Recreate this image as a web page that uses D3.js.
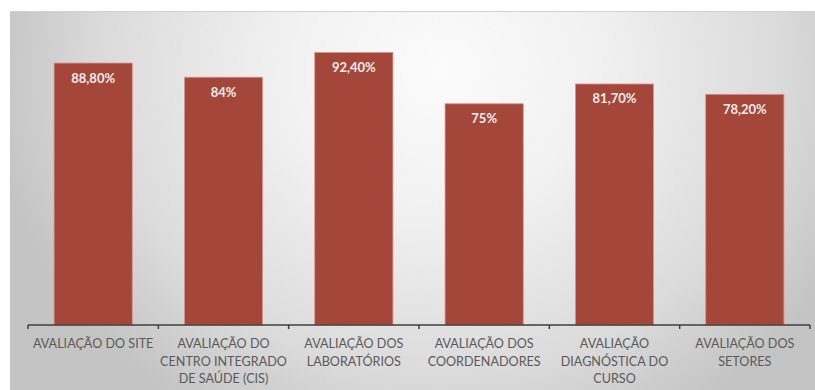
<!DOCTYPE html>
<html><head><meta charset="utf-8">
<script src="https://cdn.jsdelivr.net/npm/d3@7"></script>
<style>html,body{margin:0;padding:0;background:#fff;}svg{display:block;}</style>
</head><body>
<script>
const categories = [
  ["AVALIAÇÃO DO SITE"],
  ["AVALIAÇÃO DO", "CENTRO INTEGRADO", "DE SAÚDE (CIS)"],
  ["AVALIAÇÃO DOS", "LABORATÓRIOS"],
  ["AVALIAÇÃO DOS", "COORDENADORES"],
  ["AVALIAÇÃO", "DIAGNÓSTICA DO", "CURSO"],
  ["AVALIAÇÃO DOS", "SETORES"]
];
const values = [88.8, 84, 92.4, 75, 81.7, 78.2];
const valueLabels = ["88,80%", "84%", "92,40%", "75%", "81,70%", "78,20%"];

const W = 815, H = 390;
const svg = d3.select("body").append("svg").attr("width", W).attr("height", H);

const defs = svg.append("defs");
const rg = defs.append("radialGradient").attr("id", "bg")
  .attr("gradientUnits", "userSpaceOnUse")
  .attr("cx", 440).attr("cy", 70).attr("r", 450)
  .attr("gradientTransform", "translate(440,70) scale(1,0.9) translate(-440,-70)");
rg.append("stop").attr("offset", "0").attr("stop-color", "#fbfbfb");
rg.append("stop").attr("offset", "0.35").attr("stop-color", "#f1f1f1");
rg.append("stop").attr("offset", "0.75").attr("stop-color", "#dbdbdb");
rg.append("stop").attr("offset", "1").attr("stop-color", "#c4c4c4");

svg.append("rect").attr("x", 10).attr("y", 11).attr("width", W - 10).attr("height", H - 11)
  .attr("fill", "url(#bg)");
svg.append("line").attr("x1", 10).attr("x2", W).attr("y1", 11.5).attr("y2", 11.5)
  .attr("stroke", "#d2d2d2").attr("stroke-width", 1);

const x = d3.scaleBand().domain(d3.range(categories.length)).range([28, 810]).paddingInner(0.4).paddingOuter(0.2);
const y = d3.scaleLinear().domain([0, 100]).range([325, 30]);

svg.append("g").selectAll("rect").data(values).join("rect")
  .attr("x", (d, i) => x(i)).attr("y", d => y(d))
  .attr("width", x.bandwidth()).attr("height", d => y(0) - y(d))
  .attr("fill", "#a4473a").attr("stroke", "#d9968a").attr("stroke-width", 0.8);

svg.append("g").selectAll("text").data(values).join("text")
  .attr("x", (d, i) => x(i) + x.bandwidth() / 2).attr("y", d => y(d) + 19.5)
  .attr("text-anchor", "middle").attr("fill", "#f4ecea")
  .attr("font-family", "Lato, 'Open Sans', sans-serif").attr("font-weight", "bold").attr("font-size", 13)
  .text((d, i) => valueLabels[i]);

// axis
const x0 = 28, x1 = 810;
const ax = svg.append("g").attr("stroke", "#3f3f3f").attr("stroke-width", 1.5).attr("fill", "none");
ax.append("line").attr("x1", x0).attr("x2", x1).attr("y1", y(0)).attr("y2", y(0));
ax.selectAll("line.t").data(d3.range(categories.length + 1)).join("line").attr("class", "t")
  .attr("x1", i => x0 + i * (x1 - x0) / categories.length)
  .attr("x2", i => x0 + i * (x1 - x0) / categories.length)
  .attr("y1", y(0)).attr("y2", y(0) + 4);

const lab = svg.append("g").attr("font-family", "Lato, 'Open Sans', sans-serif").attr("font-size", 12.6)
  .attr("fill", "#5a5a5a").attr("text-anchor", "middle");
categories.forEach((lines, i) => {
  const cx = x(i) + x.bandwidth() / 2;
  const t = lab.append("text").attr("x", cx).attr("y", 348);
  lines.forEach((ln, j) => t.append("tspan").attr("x", cx).attr("dy", j ? 17.5 : 0).text(ln));
});
</script>
</body></html>
